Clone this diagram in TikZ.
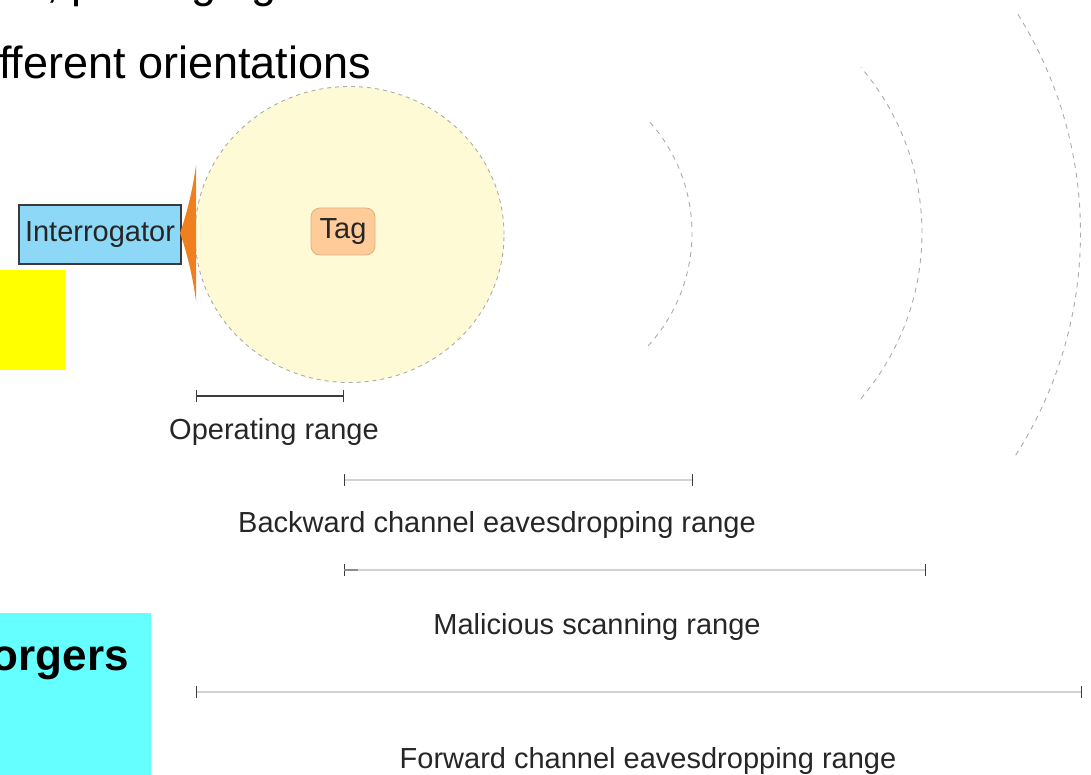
\documentclass[tikz,border=0pt]{standalone}
\usepackage{fontspec}
\setmainfont{Liberation Sans}
\usetikzlibrary{arrows.meta}

\definecolor{readerfill}{HTML}{8CD8F6}
\definecolor{readerline}{HTML}{3A3A3A}
\definecolor{tagfill}{HTML}{FFCC99}
\definecolor{tagline}{HTML}{DDB080}
\definecolor{fieldfill}{HTML}{FFFAD6}
\definecolor{dashgray}{HTML}{ABABAB}
\definecolor{antenna}{HTML}{F0801E}
\definecolor{barline}{HTML}{D2D2D2}
\definecolor{tickc}{HTML}{3C3C3C}
\definecolor{hiyellow}{HTML}{FFFF00}
\definecolor{hicyan}{HTML}{66FFFF}

\tikzset{
  lbl/.style={font=\fontsize{29}{34}\selectfont, text=black!85, inner sep=0pt, anchor=base},
  bigtxt/.style={font=\fontsize{45}{52}\selectfont, inner sep=0pt},
  rangebar/.style={draw=barline, line width=1.3pt,
    {Bar[width=12pt, line width=1.3pt, color=tickc]}-{Bar[width=12pt, line width=1.3pt, color=tickc]}},
  wave/.style={draw=dashgray, line width=0.9pt, dash pattern=on 5pt off 5pt},
}

\begin{document}
\begin{tikzpicture}[x=1pt, y=-1pt]
\useasboundingbox (0,0) rectangle (1091,775);
\clip (0,0) rectangle (1091,775);

% text lines running in from the left edge
\node[bigtxt, anchor=base west] (line1) at (46,-2) {, packaging};
\node[bigtxt, anchor=base west] (line2) at (-1,79) {fferent orientations};

% highlight blocks
\fill[hiyellow] (-2,270) rectangle (65,370);
\fill[hicyan] (-2,613) rectangle (151,777);
\node[bigtxt, font=\fontsize{44}{52}\selectfont\bfseries, anchor=base east] (forg) at (129,670) {orgers};

% operating field of the interrogator
\coordinate (fc) at (349.5,234.5);
\path[fill=fieldfill, draw=dashgray, line width=0.9pt, dash pattern=on 4pt off 4pt]
  (fc) ellipse [x radius=154.5pt, y radius=148pt];

% radiated waves
\coordinate (w1) at (525,233);
\coordinate (w2) at (667,233);
\draw[wave] ([shift={(-42.5:167pt)}]w1) arc [start angle=-42.5, end angle=42.5, radius=167pt];
\draw[wave] ([shift={(-40.5:255pt)}]w2) arc [start angle=-40.5, end angle=40.5, radius=255pt];
\draw[wave] ([shift={(-32.5:413.5pt)}]w2) arc [start angle=-32.5, end angle=32.5, radius=413.5pt];

% interrogator and its antenna
\node[draw=readerline, fill=readerfill, line width=1.5pt, minimum width=162pt, minimum height=59pt,
      inner sep=0pt, font=\fontsize{29}{34}\selectfont, text=black!85] (reader) at (100,234.5) {Interrogator};
\fill[antenna] (196,165) .. controls (192,196) and (184,222) .. (180,233)
  .. controls (184,244) and (192,270) .. (196,301) -- cycle;

% tag
\node[draw=tagline, fill=tagfill, line width=0.8pt, rounded corners=9pt, minimum width=64pt,
      minimum height=47pt, inner sep=0pt, font=\fontsize{29}{34}\selectfont, text=black!85] (tag) at (343,231.5) {Tag};

% range bars
\coordinate (op1) at (196,396);  \coordinate (op2) at (344,396);
\coordinate (bk1) at (344,480);  \coordinate (bk2) at (693,480);
\coordinate (ms1) at (344,570);  \coordinate (ms2) at (926,570);
\coordinate (fw1) at (196,692);  \coordinate (fw2) at (1082,692);

\draw[rangebar, draw=tickc] (op1) -- (op2);
\draw[rangebar] (bk1) -- (bk2);
\draw[rangebar] (ms1) -- (ms2);
\draw[draw=black!45, line width=1.3pt] (ms1) -- ++(14,0);
\draw[rangebar] (fw1) -- (fw2);

\node[lbl] (oplbl) at (274,439) {Operating range};
\node[lbl] (bklbl) at (497,532) {Backward channel eavesdropping range};
\node[lbl] (mslbl) at (597,634) {Malicious scanning range};
\node[lbl] (fwlbl) at (648,768) {Forward channel eavesdropping range};
\end{tikzpicture}
\end{document}
